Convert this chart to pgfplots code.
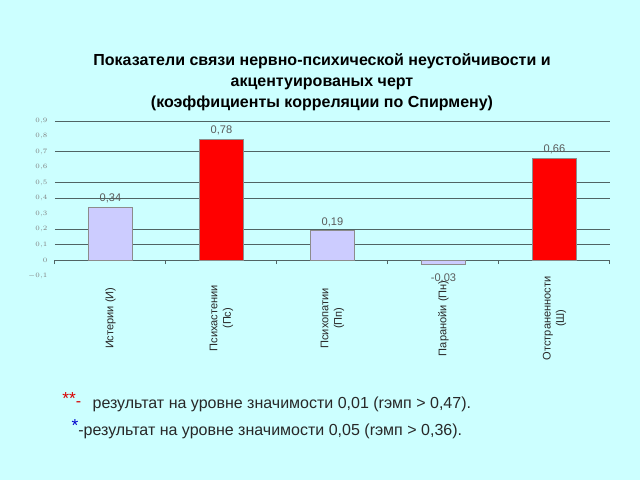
\documentclass[border=0pt]{standalone}
\usepackage{pgfplots}
\pgfplotsset{compat=1.18}
\usepackage{fontspec}
\setmainfont{Liberation Sans}
\definecolor{bg}{RGB}{204,255,255}
\definecolor{lav}{RGB}{204,204,255}
\definecolor{gridc}{RGB}{80,100,100}
\definecolor{txt}{RGB}{40,40,40}
\definecolor{vlab}{RGB}{90,90,90}
\begin{document}
\begin{tikzpicture}
\fill[bg] (0,0) rectangle (480pt,360pt);
\begin{axis}[
  at={(41.25pt,153.375pt)}, anchor=south west,
  scale only axis, width=416.25pt, height=115.875pt,
  xmin=-0.5, xmax=4.5, ymin=-0.1, ymax=0.9,
  axis x line=middle, axis y line=left,
  x axis line style={-, draw=gridc, line width=0.75pt},
  y axis line style={draw=none},
  hide obscured x ticks=false, hide obscured y ticks=false,
  xtick={0,1,2,3,4},
  xticklabels={Истерии (И), {Психастении\\(Пс)}, {Психопатии\\(Пп)}, Паранойи (Пн), {Отстраненности\\(Ш)}},
  xticklabel style={rotate=90, anchor=center, align=center, font=\fontsize{8.3}{10}\selectfont, text=txt},
  xticklabel shift=41.5pt,
  major x tick style={draw=none},
  extra x ticks={-0.5,0.5,1.5,2.5,3.5,4.5},
  extra x tick labels={},
  extra x tick style={major tick length=3pt, tick align=outside, major x tick style={draw=gridc, line width=0.75pt}, xticklabel shift=0pt},
  ytick={-0.1,0,0.1,0.2,0.3,0.4,0.5,0.6,0.7,0.8,0.9},
  major y tick style={draw=none},
  yticklabel style={font=\fontsize{4.5}{5}\selectfont, text=gray, /pgf/number format/.cd, use comma, fixed, precision=1},
  extra y ticks={0.1,0.2,0.4,0.5,0.7,0.9},
  extra y tick labels={},
  extra y tick style={ymajorgrids=true, major grid style={draw=gridc, line width=0.75pt}, major y tick style={draw=none}},
  clip=false,
]
\addplot[ybar, bar width=0.4, bar shift=0pt, fill=lav, draw=black!45, line width=0.6pt,
  point meta=explicit symbolic, nodes near coords,
  nodes near coords style={font=\fontsize{8.3}{10}\selectfont, text=vlab, yshift=-0.5pt}]
  coordinates {(0,0.34) [0,34] (2,0.19) [0,19]};
\addplot[ybar, bar width=0.4, bar shift=0pt, fill=lav, draw=black!45, line width=0.6pt,
  point meta=explicit symbolic, nodes near coords,
  nodes near coords style={font=\fontsize{8.3}{10}\selectfont, text=vlab, anchor=north, yshift=-3pt}]
  coordinates {(3,-0.03) [-0,03]};
\addplot[ybar, bar width=0.4, bar shift=0pt, fill=red, draw=black!45, line width=0.6pt,
  point meta=explicit symbolic, nodes near coords,
  nodes near coords style={font=\fontsize{8.3}{10}\selectfont, text=vlab, yshift=-0.5pt}]
  coordinates {(1,0.78) [0,78] (4,0.66) [0,66]};
\end{axis}
\begin{scope}[every node/.style={anchor=base, inner sep=0pt, font=\fontsize{12}{14}\selectfont\bfseries}]
\node at (241.5pt,311.25pt) {Показатели связи нервно-психической неустойчивости и};
\node at (241.5pt,295.5pt) {акцентуированых черт};
\node at (241.5pt,279.75pt) {(коэффициенты корреляции по Спирмену)};
\end{scope}
\begin{scope}[every node/.style={anchor=base west, inner sep=0pt, font=\fontsize{12}{14}\selectfont, text=txt}]
\node at (46.5pt,54pt) {{\color{red!85!black}\raisebox{2.5pt}{\fontsize{13}{13}\selectfont **}\raisebox{1pt}{-}}\ \ \,результат на уровне значимости 0,01 (rэмп > 0,47).};
\node at (53.5pt,33.75pt) {{\color{blue!80!black}\raisebox{3pt}{\fontsize{13}{13}\selectfont *}}-результат на уровне значимости 0,05 (rэмп > 0,36).};
\end{scope}
\end{tikzpicture}
\end{document}
